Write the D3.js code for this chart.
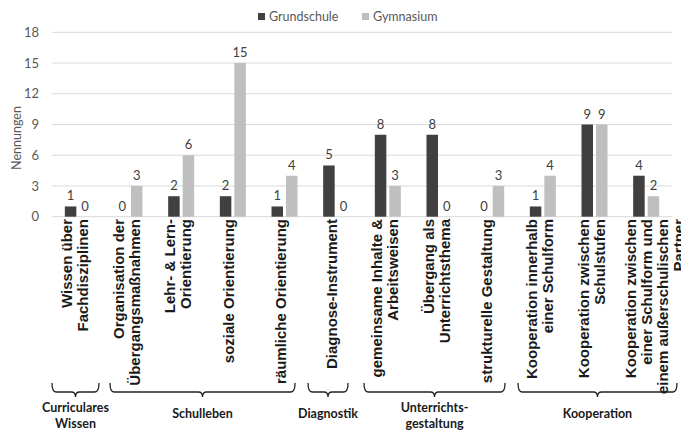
<!DOCTYPE html>
<html>
<head>
<meta charset="utf-8">
<script src="https://cdn.jsdelivr.net/npm/d3@7"></script>
<style>
  html, body { margin: 0; padding: 0; background: #fff; }
  svg { display: block; }
</style>
</head>
<body>
<svg id="chart" width="681" height="432"></svg>
<script>
// Category labels, one entry per line of the wrapped label
const categories = [
  ["Wissen über", "Fachdisziplinen"],
  ["Organisation der", "Übergangsmaßnahmen"],
  ["Lehr- & Lern-", "Orientierung"],
  ["soziale Orientierung"],
  ["räumliche Orientierung"],
  ["Diagnose-Instrument"],
  ["gemeinsame Inhalte &", "Arbeitsweisen"],
  ["Übergang als", "Unterrichtsthema"],
  ["strukturelle Gestaltung"],
  ["Kooperation innerhalb", "einer Schulform"],
  ["Kooperation zwischen", "Schulstufen"],
  ["Kooperation zwischen", "einer Schulform und", "einem außerschulischen", "Partner"]
];
const seriesNames = ["Grundschule", "Gymnasium"];
const grundschule = [1, 0, 2, 2, 1, 5, 8, 8, 0, 1, 9, 4];
const gymnasium   = [0, 3, 6, 15, 4, 0, 3, 0, 3, 4, 9, 2];
const yTicks = [0, 3, 6, 9, 12, 15, 18];

// Higher-level groupings (first and last category index, label lines)
const groupNames = [
  ["Curriculares", "Wissen"],
  ["Schulleben"],
  ["Diagnostik"],
  ["Unterrichts-", "gestaltung"],
  ["Kooperation"]
];
const groupSpans = [[0, 0], [1, 4], [5, 5], [6, 8], [9, 11]];

const colors = { Grundschule: "#404040", Gymnasium: "#bfbfbf" };
const values = { Grundschule: grundschule, Gymnasium: gymnasium };

const svg = d3.select("#chart");
const plotLeft = 52, plotRight = 672, plotTop = 32.3, plotBottom = 216.7;

const catIdx = categories.map((d, i) => i);
const x0 = d3.scaleBand().domain(catIdx).range([plotLeft, plotRight]).paddingInner(0).paddingOuter(0);
const bw = x0.bandwidth();
const x1 = d3.scaleBand().domain(seriesNames).range([bw / 2 - 13, bw / 2 + 13]).paddingInner(0.207);
const y = d3.scaleLinear().domain([0, 18]).range([plotBottom, plotTop]);

// Gridlines
svg.append("g").selectAll("line").data(yTicks).join("line")
  .attr("x1", plotLeft).attr("x2", plotRight)
  .attr("y1", d => y(d)).attr("y2", d => y(d))
  .attr("stroke", "#d9d9d9").attr("stroke-width", 1);

// Y axis tick labels
const yAxis = d3.axisLeft(y).tickValues(yTicks).tickSize(0).tickPadding(0);
const gy = svg.append("g").attr("transform", `translate(39,0)`).call(yAxis);
gy.select(".domain").remove();
gy.selectAll("text")
  .attr("font-family", "Lato, 'Open Sans', sans-serif")
  .attr("font-size", 13).attr("fill", "#595959");

// Y axis title
svg.append("text")
  .attr("transform", "translate(21,138) rotate(-90)")
  .attr("text-anchor", "middle")
  .attr("font-family", "Lato, 'Open Sans', sans-serif")
  .attr("font-size", 12.5).attr("fill", "#595959")
  .text("Nennungen");

// Bars and value labels
const barData = [];
catIdx.forEach(i => seriesNames.forEach(s => barData.push({ i, s, v: values[s][i] })));

svg.append("g").selectAll("rect").data(barData).join("rect")
  .attr("x", d => x0(d.i) + x1(d.s))
  .attr("width", x1.bandwidth())
  .attr("y", d => y(d.v))
  .attr("height", d => y(0) - y(d.v))
  .attr("fill", d => colors[d.s]);

svg.append("g").selectAll("text").data(barData).join("text")
  .attr("x", d => x0(d.i) + x1(d.s) + x1.bandwidth() / 2)
  .attr("y", d => y(d.v) - 6)
  .attr("text-anchor", "middle")
  .attr("font-family", "Lato, 'Open Sans', sans-serif")
  .attr("font-size", 13).attr("fill", "#404040")
  .text(d => d.v);

// Legend
const legend = svg.append("g");
const legendX = [258, 362];
seriesNames.forEach((s, k) => {
  legend.append("rect").attr("x", legendX[k]).attr("y", 13).attr("width", 7).attr("height", 7)
    .attr("fill", colors[s]);
  legend.append("text").attr("x", legendX[k] + 11).attr("y", 20.5)
    .attr("font-family", "Lato, 'Open Sans', sans-serif")
    .attr("font-size", 12.5).attr("fill", "#595959")
    .text(s);
});

// Rotated category labels below the plot
const catG = svg.append("g");
categories.forEach((lines, i) => {
  const c = x0(i) + bw / 2;
  const lead = lines.length > 2 ? -10 : 1 - (lines.length - 1) * 7;
  lines.forEach((line, j) => {
    const bx = c + lead + j * 16;
    catG.append("text")
      .attr("transform", `translate(${bx},219) rotate(-90)`)
      .attr("text-anchor", "end")
      .attr("font-family", "'Liberation Sans', Arial, sans-serif")
      .attr("font-weight", "bold")
      .attr("font-size", 15).attr("fill", "#1a1a1a")
      .text(line);
  });
});

// Curly braces grouping the categories, with their group names
const braceAdjust = [[0, -4.7], [6.3, -15.3], [-2.3, -14], [2, -12], [1, 5]];
const braceTop = 383, braceMid = 392, braceTip = 397;
const braceG = svg.append("g");
groupSpans.forEach(([a, b], k) => {
  const xa = x0(a) + braceAdjust[k][0];
  const xb = x0(b) + bw + braceAdjust[k][1];
  const xm = (xa + xb) / 2;
  const r = 4;
  const p = d3.path();
  p.moveTo(xa, braceTop);
  p.quadraticCurveTo(xa, braceMid, xa + r, braceMid);
  p.lineTo(xm - r, braceMid);
  p.quadraticCurveTo(xm, braceMid, xm, braceTip);
  p.quadraticCurveTo(xm, braceMid, xm + r, braceMid);
  p.lineTo(xb - r, braceMid);
  p.quadraticCurveTo(xb, braceMid, xb, braceTop);
  braceG.append("path").attr("d", p.toString())
    .attr("fill", "none").attr("stroke", "#222").attr("stroke-width", 1.3);

  const names = groupNames[k];
  const baseY = names.length > 1 ? 412 : 418;
  names.forEach((n, j) => {
    braceG.append("text")
      .attr("x", xm).attr("y", baseY + j * 15.5)
      .attr("text-anchor", "middle")
      .attr("font-family", "Lato, 'Open Sans', sans-serif")
      .attr("font-weight", "bold")
      .attr("font-size", 12.5).attr("fill", "#1a1a1a")
      .text(n);
  });
});
</script>
</body>
</html>
